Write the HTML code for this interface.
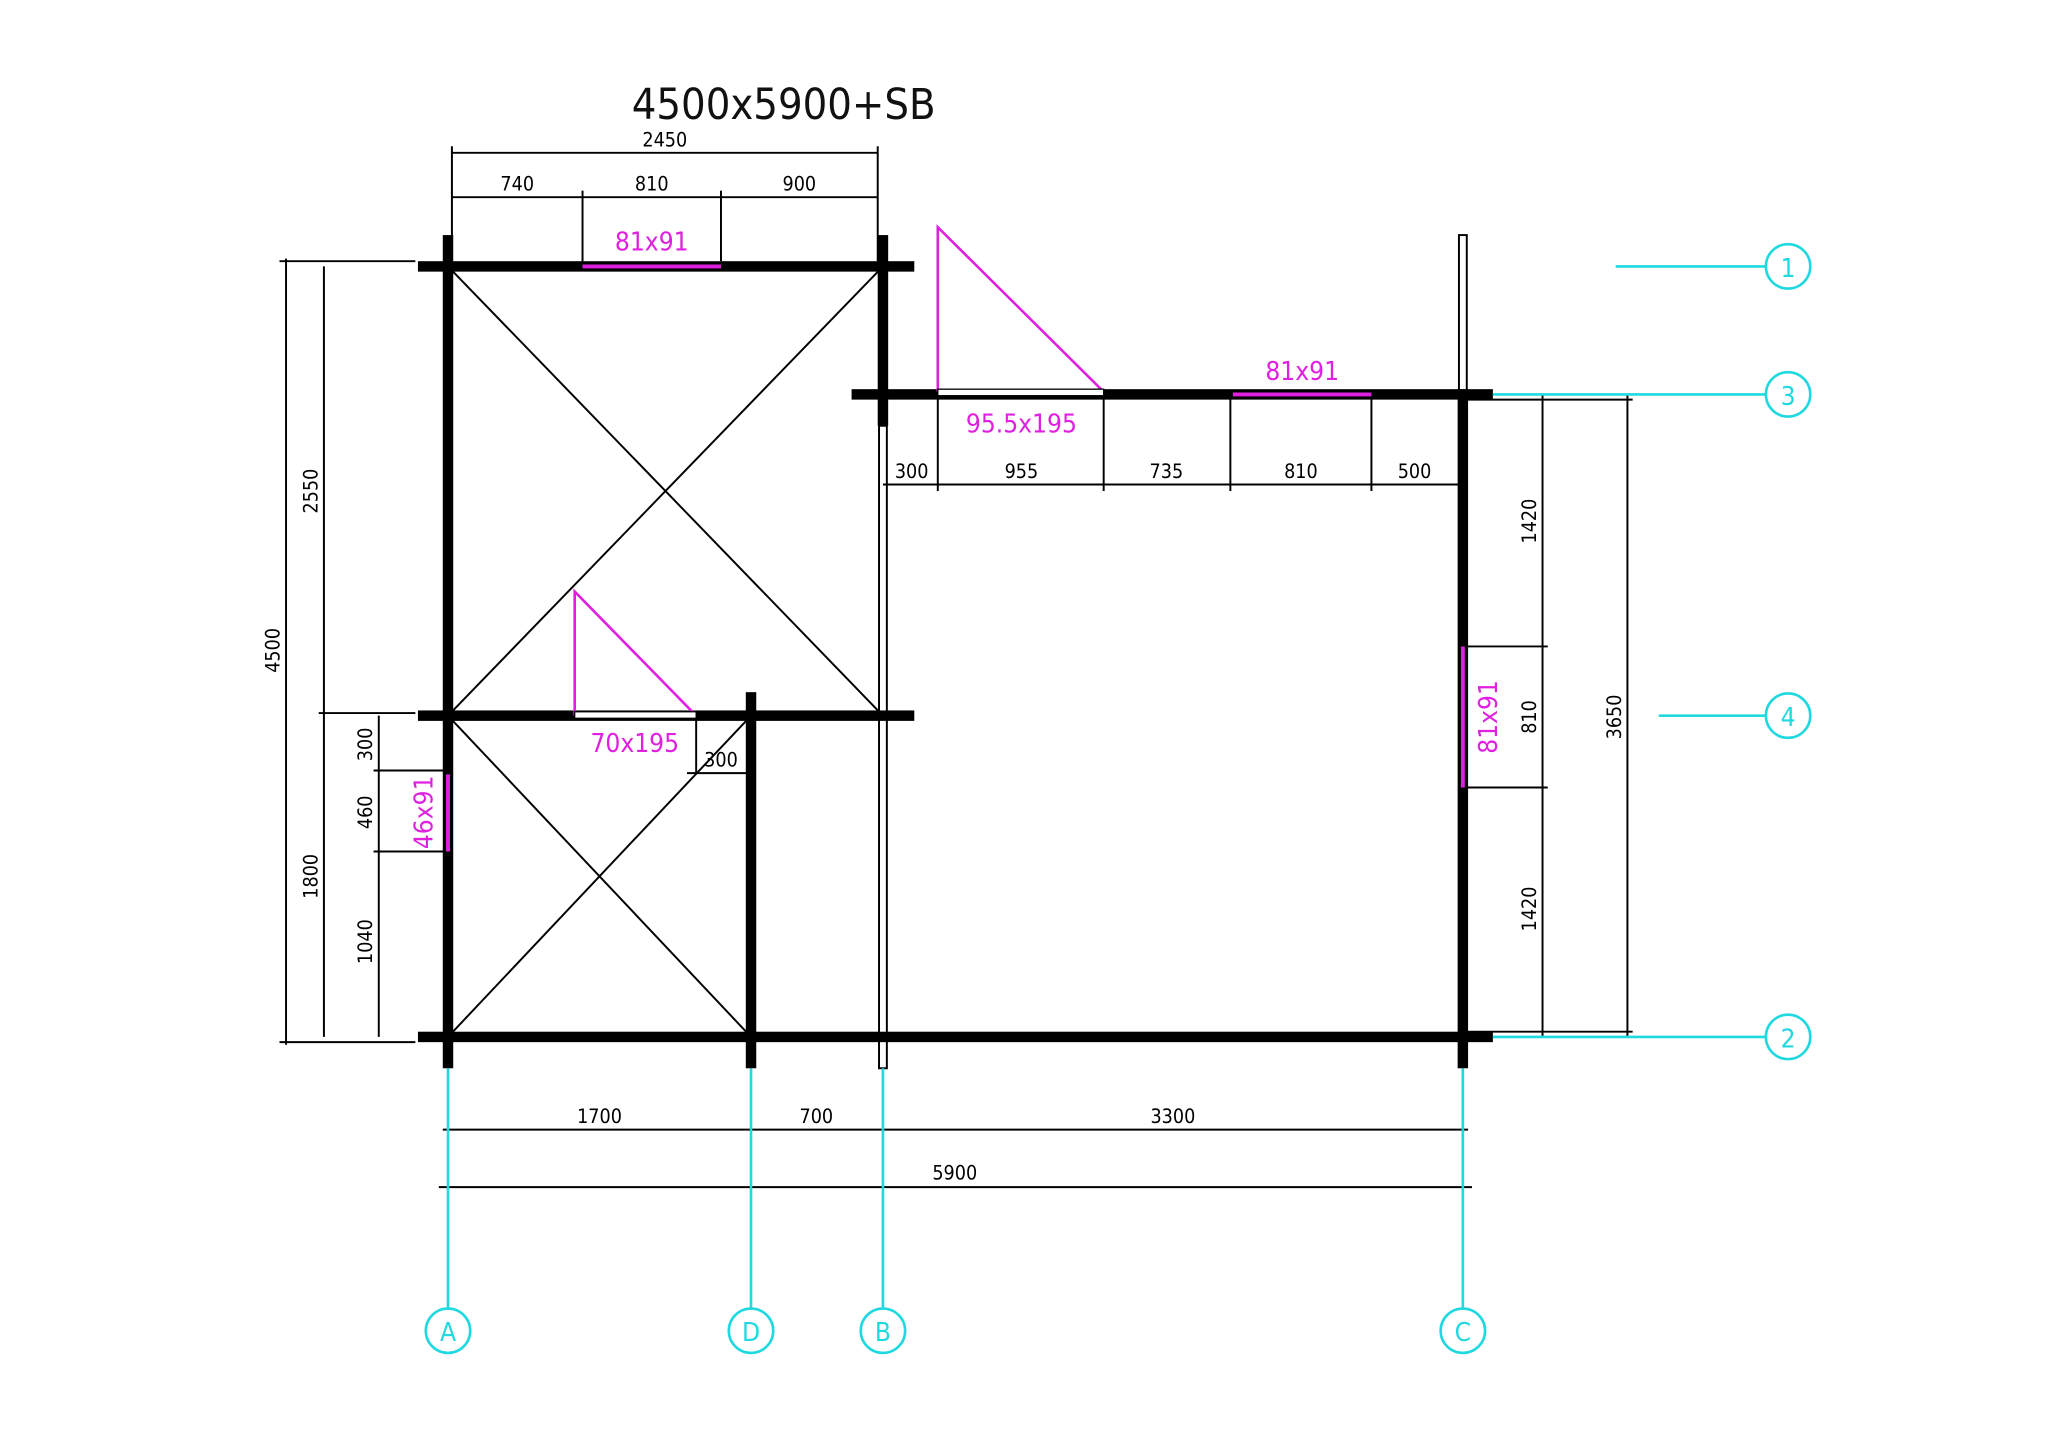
<!DOCTYPE html>
<html><head><meta charset="utf-8"><style>
html,body{margin:0;padding:0;background:#fff;}
svg{display:block;}
text{font-family:"DejaVu Sans Condensed","Liberation Sans",sans-serif;}
</style></head><body>
<svg width="2048" height="1447" viewBox="0 0 1568 1108" preserveAspectRatio="none" xmlns="http://www.w3.org/2000/svg">
<rect width="1568" height="1108" fill="#fff"/>
<text x="600" y="91" font-size="33" text-anchor="middle" fill="#111">4500x5900+SB</text>

<!-- thin lines / diagonals -->
<g stroke="#000" stroke-width="1.5" fill="none">
<line x1="343" y1="204" x2="676" y2="548"/>
<line x1="676" y1="204" x2="343" y2="548"/>
<line x1="343" y1="548" x2="575" y2="794"/>
<line x1="575" y1="548" x2="343" y2="794"/>
<!-- thin double walls -->
<rect x="673" y="326" width="6" height="492"/>
<rect x="1117" y="180" width="6" height="122"/>
<!-- top dims -->
<line x1="346" y1="117" x2="672" y2="117"/>
<line x1="346" y1="112" x2="346" y2="200"/>
<line x1="672" y1="112" x2="672" y2="200"/>
<line x1="346" y1="151" x2="672" y2="151"/>
<line x1="446" y1="146" x2="446" y2="200"/>
<line x1="552" y1="146" x2="552" y2="200"/>
<!-- left dims -->
<line x1="219" y1="198" x2="219" y2="800"/>
<line x1="214" y1="200" x2="318" y2="200"/>
<line x1="214" y1="798" x2="318" y2="798"/>
<line x1="248" y1="204" x2="248" y2="794"/>
<line x1="244" y1="546" x2="318" y2="546"/>
<line x1="290" y1="548" x2="290" y2="794"/>
<line x1="286" y1="590" x2="340" y2="590"/>
<line x1="286" y1="652" x2="340" y2="652"/>
<!-- right dims -->
<line x1="1181" y1="302" x2="1181" y2="794"/>
<line x1="1246" y1="302" x2="1246" y2="794"/>
<line x1="1123" y1="306" x2="1250" y2="306"/>
<line x1="1123" y1="790" x2="1250" y2="790"/>
<line x1="1123" y1="495" x2="1185" y2="495"/>
<line x1="1123" y1="603" x2="1185" y2="603"/>
<!-- inner dims -->
<line x1="676" y1="371" x2="1117" y2="371"/>
<line x1="718" y1="302" x2="718" y2="376"/>
<line x1="845" y1="302" x2="845" y2="376"/>
<line x1="942" y1="302" x2="942" y2="376"/>
<line x1="1050" y1="302" x2="1050" y2="376"/>
<line x1="533" y1="548" x2="533" y2="592"/>
<line x1="526" y1="592" x2="572" y2="592"/>
<!-- bottom dims -->
<line x1="339" y1="865" x2="1124" y2="865"/>
<line x1="336" y1="909" x2="1127" y2="909"/>
<line x1="343" y1="818" x2="343" y2="914"/>
<line x1="1120" y1="818" x2="1120" y2="914"/>
<line x1="575" y1="818" x2="575" y2="870"/>
<line x1="676" y1="818" x2="676" y2="870"/>
</g>

<!-- thick walls -->
<g fill="#000">
<rect x="320" y="200" width="380" height="8"/>
<rect x="339" y="180" width="8" height="638"/>
<rect x="320" y="544" width="380" height="8"/>
<rect x="320" y="790" width="823" height="8"/>
<rect x="672" y="180" width="8" height="146"/>
<rect x="652" y="298" width="491" height="8"/>
<rect x="1116" y="298" width="8" height="520"/>
<rect x="571" y="530" width="8" height="288"/>
</g>

<!-- windows / doors -->
<g stroke="#e020e0" stroke-width="3" fill="none">
<line x1="446" y1="204" x2="552" y2="204"/>
<line x1="944" y1="302" x2="1050" y2="302"/>
<line x1="1120" y1="495" x2="1120" y2="603"/>
<line x1="343" y1="593" x2="343" y2="652"/>
</g>
<g stroke="#e020e0" stroke-width="2" fill="none">
<polyline points="718,300 718,174 845,300"/>
<polyline points="440,548 440,453 533,548"/>
</g>
<rect x="718" y="298" width="127" height="5" fill="#fff" stroke="#000" stroke-width="1"/>
<rect x="440" y="545" width="93" height="5" fill="#fff" stroke="#000" stroke-width="1"/>

<g fill="#e020e0" font-size="20" text-anchor="middle">
<text x="499" y="192">81x91</text>
<text x="997" y="291">81x91</text>
<text x="782" y="331">95.5x195</text>
<text x="486" y="576">70x195</text>
<text transform="translate(1146,549) rotate(-90)">81x91</text>
<text transform="translate(331,622) rotate(-90)">46x91</text>
</g>

<g fill="#000" font-size="15" text-anchor="middle">
<text x="509" y="112">2450</text>
<text x="396" y="146">740</text>
<text x="499" y="146">810</text>
<text x="612" y="146">900</text>
<text x="698" y="366">300</text>
<text x="782" y="366">955</text>
<text x="893" y="366">735</text>
<text x="996" y="366">810</text>
<text x="1083" y="366">500</text>
<text x="552" y="587">300</text>
<text x="459" y="860">1700</text>
<text x="625" y="860">700</text>
<text x="898" y="860">3300</text>
<text x="731" y="903">5900</text>
<text transform="translate(214,498) rotate(-90)">4500</text>
<text transform="translate(243,376) rotate(-90)">2550</text>
<text transform="translate(243,671) rotate(-90)">1800</text>
<text transform="translate(285,570) rotate(-90)">300</text>
<text transform="translate(285,622) rotate(-90)">460</text>
<text transform="translate(285,721) rotate(-90)">1040</text>
<text transform="translate(1176,399) rotate(-90)">1420</text>
<text transform="translate(1176,549) rotate(-90)">810</text>
<text transform="translate(1176,696) rotate(-90)">1420</text>
<text transform="translate(1241,549) rotate(-90)">3650</text>
</g>

<!-- axes -->
<g stroke="#20d8e0" stroke-width="2" fill="none">
<line x1="343" y1="818" x2="343" y2="1002"/>
<line x1="575" y1="818" x2="575" y2="1002"/>
<line x1="676" y1="818" x2="676" y2="1002"/>
<line x1="1120" y1="818" x2="1120" y2="1002"/>
<circle cx="343" cy="1019" r="17"/>
<circle cx="575" cy="1019" r="17"/>
<circle cx="676" cy="1019" r="17"/>
<circle cx="1120" cy="1019" r="17"/>
<line x1="1237" y1="204" x2="1352" y2="204"/>
<line x1="1143" y1="302" x2="1352" y2="302"/>
<line x1="1270" y1="548" x2="1352" y2="548"/>
<line x1="1143" y1="794" x2="1352" y2="794"/>
<circle cx="1369" cy="204" r="17"/>
<circle cx="1369" cy="302" r="17"/>
<circle cx="1369" cy="548" r="17"/>
<circle cx="1369" cy="794" r="17"/>
</g>
<g fill="#20d8e0" font-size="20" text-anchor="middle">
<text x="343" y="1027">A</text>
<text x="575" y="1027">D</text>
<text x="676" y="1027">B</text>
<text x="1120" y="1027">C</text>
<text x="1369" y="212">1</text>
<text x="1369" y="310">3</text>
<text x="1369" y="556">4</text>
<text x="1369" y="802">2</text>
</g>
</svg>
</body></html>
